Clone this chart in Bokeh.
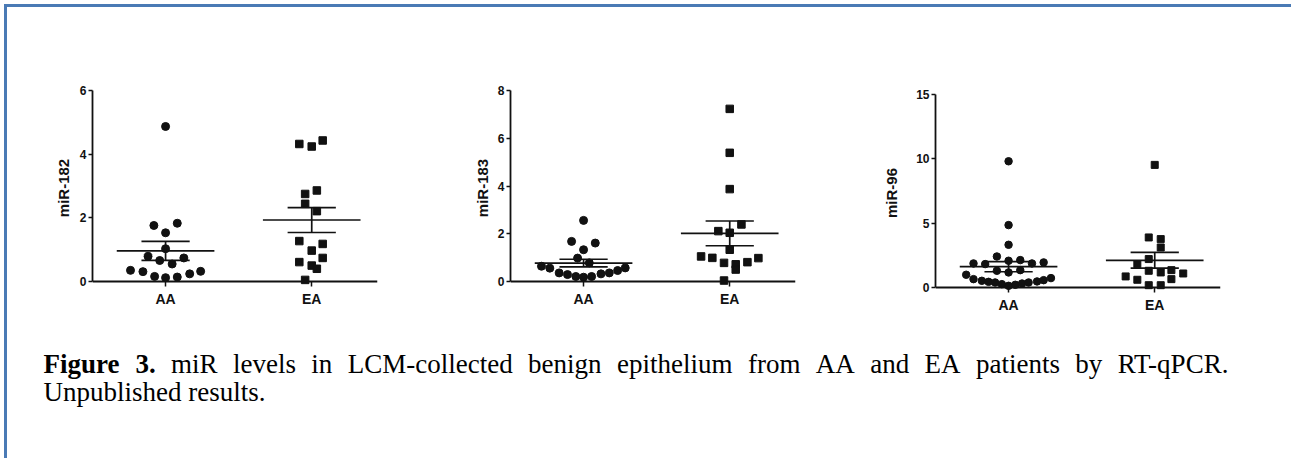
import numpy as np
from bokeh.plotting import figure
from bokeh.models import Range1d, FixedTicker, Spacer, Span
from bokeh.layouts import row, column
from bokeh.embed import file_html
from bokeh.resources import INLINE
from bokeh.core.properties import value

# ---------------- data ----------------
groups = ["AA", "EA"]

mir182_aa = [4.87, 1.76, 1.83, 1.53, 1.03, 0.79, 0.66, 0.74, 0.55, 0.35, 0.31, 0.24, 0.32, 0.16, 0.12, 0.14]
mir182_aa_jitter = [0, -0.08, 0.08, 0, 0, -0.12, -0.04, 0.125, 0.045, -0.24, -0.155, 0.165, 0.24, -0.075, 0, 0.08]
mir182_ea = [4.32, 4.24, 4.43, 2.75, 2.86, 2.44, 2.21, 1.27, 1.18, 0.97, 0.61, 0.74, 0.50, 0.40, 0.05]
mir182_ea_jitter = [-0.085, 0, 0.075, -0.045, 0.035, -0.045, 0.035, -0.085, 0.075, 0, -0.085, 0.075, 0, 0.035, -0.045]

mir183_aa = [2.56, 1.68, 1.61, 1.33, 0.98, 0.78, 0.64, 0.56, 0.36, 0.29, 0.21, 0.18, 0.21, 0.32, 0.36, 0.46, 0.57]
mir183_aa_jitter = [0, -0.082, 0.08, 0, -0.041, 0.039, -0.288, -0.231, -0.167, -0.11, -0.053, 0, 0.055, 0.119, 0.176, 0.233, 0.285]
mir183_ea = [7.23, 5.39, 3.87, 2.39, 2.11, 2.04, 1.33, 1.05, 0.99, 0.78, 0.72, 0.50, 0.81, 0.98, 0.04]
mir183_ea_jitter = [0, 0, 0, 0.08, -0.078, 0, 0, -0.196, -0.119, -0.039, 0.041, 0.041, 0.121, 0.196, -0.039]

mir96_aa = [9.81, 4.85, 3.32, 2.41, 1.87, 1.82, 2.08, 2.13, 1.87, 1.95, 1.30, 1.17, 1.35,
            0.99, 0.65, 0.52, 0.44, 0.39, 0.26, 0.13, 0.21, 0.31, 0.39, 0.47, 0.57, 0.73]
mir96_aa_jitter = [0, 0, 0, -0.08, -0.24, -0.16, 0, 0.08, 0.16, 0.24, -0.08, 0, 0.08,
                   -0.29, -0.24, -0.183, -0.137, -0.092, -0.046, 0, 0.046, 0.092, 0.137, 0.195, 0.24, 0.29]
mir96_ea = [9.53, 3.89, 3.76, 3.11, 2.21, 1.82, 1.30, 1.17, 1.35, 1.09, 0.86, 0.60, 0.65, 0.18, 0.18]
mir96_ea_jitter = [0, -0.041, 0.041, 0.041, -0.041, -0.119, -0.041, 0.041, 0.114, 0.195, -0.199, -0.119, 0.114, -0.041, 0.041]

panel_labels = ["miR-182", "miR-183", "miR-96"]
panel_ymax = [6, 8, 15]
panel_yticks = [[0, 2, 4, 6], [0, 2, 4, 6, 8], [0, 5, 10, 15]]

caption_bold = "Figure 3."
caption_line1 = "miR levels in LCM-collected benign epithelium from AA and EA patients by RT-qPCR."
caption_line2 = "Unpublished results."

# ---------------- styling ----------------
INK = "#111111"
BLUE = "#4a7ab5"
SANS = "Liberation Sans"
SERIF = "Liberation Serif"
PAD_PX = 4


def make_panel(label, ymax, yticks, aa, aa_j, ea, ea_j, width, height, bl, br, bt, bb, msize, lab_standoff):
    frame_h = height - bt - bb
    pad = ymax * PAD_PX / (frame_h - PAD_PX)
    p = figure(width=width, height=height, output_backend="svg", toolbar_location=None,
               x_range=Range1d(0.5, 2.45), y_range=Range1d(-pad, ymax),
               min_border_left=bl, min_border_right=br, min_border_top=bt, min_border_bottom=bb)
    p.grid.visible = False
    p.outline_line_color = None
    p.background_fill_color = "white"
    p.border_fill_color = "white"

    # x axis line at y = 0
    p.add_layout(Span(location=0, dimension="width", line_color=INK, line_width=1.8))

    xs_aa = [1 + j for j in aa_j]
    xs_ea = [2 + j for j in ea_j]
    p.scatter(xs_aa, aa, marker="circle", size=msize, fill_color=INK, line_color=INK)
    p.scatter(xs_ea, ea, marker="square", size=msize - 0.5, fill_color=INK, line_color=INK)

    for cx, vals in ((1, aa), (2, ea)):
        arr = np.array(vals)
        m = arr.mean()
        s = arr.std(ddof=1) / np.sqrt(len(arr))
        p.segment(x0=[cx - 0.334, cx - 0.165, cx - 0.165, cx], y0=[m, m + s, m - s, m - s],
                  x1=[cx + 0.334, cx + 0.165, cx + 0.165, cx], y1=[m, m + s, m - s, m + s],
                  line_color=INK, line_width=1.7)

    xa = p.xaxis[0]
    xa.ticker = FixedTicker(ticks=[1, 2])
    xa.major_label_overrides = {1: groups[0], 2: groups[1]}
    xa.axis_line_color = None
    xa.major_tick_line_color = INK
    xa.major_tick_line_width = 1.5
    xa.major_tick_in = PAD_PX
    xa.major_tick_out = 1
    xa.minor_tick_line_color = None
    xa.major_label_text_font = SANS
    xa.major_label_text_font_style = "bold"
    xa.major_label_text_font_size = "14px"
    xa.major_label_text_color = INK
    xa.major_label_standoff = 4

    ya = p.yaxis[0]
    ya.ticker = FixedTicker(ticks=yticks)
    ya.bounds = (0, ymax)
    ya.axis_line_width = 1.8
    ya.axis_line_color = INK
    ya.major_tick_line_color = INK
    ya.major_tick_line_width = 1.5
    ya.major_tick_in = 0
    ya.major_tick_out = 4
    ya.minor_tick_line_color = None
    ya.major_label_text_font = SANS
    ya.major_label_text_font_style = "bold"
    ya.major_label_text_font_size = "12px"
    ya.major_label_text_color = INK
    ya.major_label_standoff = 2
    ya.axis_label = label
    ya.axis_label_text_font = SANS
    ya.axis_label_text_font_style = "bold"
    ya.axis_label_text_font_size = "15px"
    ya.axis_label_text_color = INK
    ya.axis_label_standoff = lab_standoff
    return p


p1 = make_panel(panel_labels[0], panel_ymax[0], panel_yticks[0], mir182_aa, mir182_aa_jitter,
                mir182_ea, mir182_ea_jitter, width=433, height=313, bl=85, br=63, bt=83, bb=35,
                msize=8, lab_standoff=5)
p2 = make_panel(panel_labels[1], panel_ymax[1], panel_yticks[1], mir183_aa, mir183_aa_jitter,
                mir183_ea, mir183_ea_jitter, width=420, height=313, bl=70, br=65, bt=83, bb=35,
                msize=8, lab_standoff=4)
p3 = make_panel(panel_labels[2], panel_ymax[2], panel_yticks[2], mir96_aa, mir96_aa_jitter,
                mir96_ea, mir96_ea_jitter, width=431, height=309, bl=75, br=71, bt=83, bb=29,
                msize=7.5, lab_standoff=13)

# ---------------- caption ----------------
PANEL_H = 313
CAP_W, CAP_H = 1284, 138
cap = figure(width=CAP_W, height=CAP_H, output_backend="svg", toolbar_location=None,
             x_range=Range1d(0, CAP_W), y_range=Range1d(CAP_H, 0),
             x_axis_type=None, y_axis_type=None, min_border=0)
cap.grid.visible = False
cap.outline_line_color = None
cap.background_fill_color = "white"
cap.border_fill_color = "white"

# Times / Liberation Serif advance widths (1/1000 em)
W_REG = dict(zip(" -.ABCDEFGHIJKLMNOPQRSTUVWXYZabcdefghijklmnopqrstuvwxyz3",
                 [250, 333, 250, 722, 667, 667, 722, 611, 556, 722, 722, 333, 389, 722, 611, 889, 722, 722,
                  556, 722, 667, 556, 611, 722, 722, 944, 722, 722, 611,
                  444, 500, 444, 500, 444, 333, 500, 500, 278, 278, 500, 278, 778, 500, 500, 500, 500, 333,
                  389, 278, 500, 500, 722, 500, 500, 444, 500]))
W_BOLD = {"F": 611, "i": 278, "g": 500, "u": 556, "r": 444, "e": 444, "3": 500, ".": 250}
FS = 27
x_start, x_end = 36, 1225
words = [(w, True) for w in caption_bold.split()] + [(w, False) for w in caption_line1.split()]
widths = [sum((W_BOLD if b else W_REG)[c] for c in w) * FS / 1000 for w, b in words]
gap = (x_end - x_start - sum(widths)) / (len(words) - 1)
xpos, cur = [], x_start
for wd in widths:
    xpos.append(cur)
    cur += wd + gap
bold_idx = [i for i, (w, b) in enumerate(words) if b]
reg_idx = [i for i, (w, b) in enumerate(words) if not b]
base1, base2 = 43, 71
cap.text(x=[xpos[i] for i in bold_idx], y=[base1] * len(bold_idx), text=[words[i][0] for i in bold_idx],
         text_font=value(SERIF), text_font_style="bold", text_font_size=f"{FS}px",
         text_baseline="alphabetic", text_align="left", text_color="black")
cap.text(x=[xpos[i] for i in reg_idx], y=[base1] * len(reg_idx), text=[words[i][0] for i in reg_idx],
         text_font=value(SERIF), text_font_size=f"{FS}px",
         text_baseline="alphabetic", text_align="left", text_color="black")
cap.text(x=[x_start], y=[base2], text=[caption_line2],
         text_font=value(SERIF), text_font_size=f"{FS}px",
         text_baseline="alphabetic", text_align="left", text_color="black")

# ---------------- layout with frame border ----------------
total_w = 3 + CAP_W
total_h = PANEL_H + CAP_H
top_gap = Spacer(width=4 + total_w, height=4)
left_gap = Spacer(width=4, height=3 + total_h)
top_bar = Spacer(width=total_w, height=3, styles={"background-color": BLUE})
left_bar = Spacer(width=3, height=total_h, styles={"background-color": BLUE})
content = column(row(p1, p2, column(Spacer(width=431, height=4), p3)), cap)
framed = column(top_bar, row(left_bar, content))
layout = column(top_gap, row(left_gap, framed))

open("out.html", "w").write(file_html(layout, INLINE))
